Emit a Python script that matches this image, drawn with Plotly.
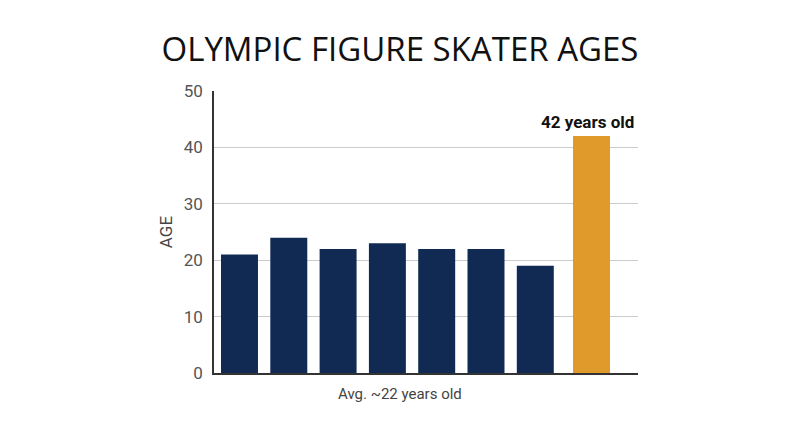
import plotly.graph_objects as go

# skater ages
skaters = ["S1", "S2", "S3", "S4", "S5", "S6", "S7", "S8"]
ages = [21, 24, 22, 23, 22, 22, 19, 42]
highlight = "S8"
highlight_label = "42 years old"
avg_label = "Avg. ~22 years old"
y_ticks = [0, 10, 20, 30, 40, 50]

NAVY = "#102a54"
ORANGE = "#e0992b"
GAP = 0.14  # the oldest skater's bar sits a little apart from the rest

x_pos = [i + (GAP if s == highlight else 0) for i, s in enumerate(skaters)]
colors = [ORANGE if s == highlight else NAVY for s in skaters]

fig = go.Figure()
fig.add_trace(
    go.Bar(x=x_pos, y=ages, marker=dict(color=colors, line=dict(width=0)),
           width=0.75, hoverinfo="y")
)

hi = skaters.index(highlight)
fig.add_annotation(
    x=x_pos[hi], y=ages[hi], text=f"<b>{highlight_label}</b>",
    showarrow=False, yanchor="bottom", yshift=2, xshift=-4,
    font=dict(family="Roboto", size=17, color="#111111"),
)
# axis caption sits under the navy bars rather than the whole axis
fig.add_annotation(
    x=0.439, y=0, xref="paper", yref="paper", yanchor="top", yshift=-10,
    text=avg_label, showarrow=False,
    font=dict(family="Roboto", size=15, color="#444444"),
)

fig.update_layout(
    width=800, height=447,
    margin=dict(l=206, r=170, t=83, b=82),
    paper_bgcolor="white", plot_bgcolor="white",
    showlegend=False,
    title=dict(text="OLYMPIC FIGURE SKATER AGES", x=0.49, xanchor="center",
               y=0.908, yanchor="middle",
               font=dict(family="Open Sans", size=33, color="#111111")),
    xaxis=dict(range=[-0.517, 8.083], showticklabels=False, ticks="",
               showgrid=False, zeroline=False,
               showline=True, linecolor="#333333", linewidth=1.5),
    yaxis=dict(range=[0, 50], tickvals=y_ticks, showgrid=True,
               gridcolor="#cccccc", gridwidth=1, zeroline=False,
               showline=True, linecolor="#333333", linewidth=1.5,
               ticks="", ticklabelstandoff=6,
               tickfont=dict(family="Roboto", size=17, color="#555555"),
               title=dict(text="AGE", standoff=7,
                          font=dict(family="Roboto", size=17, color="#444444"))),
)

fig.write_html("out.html")
